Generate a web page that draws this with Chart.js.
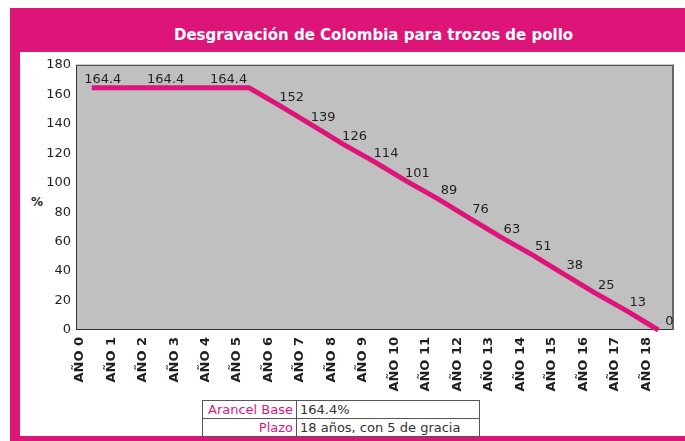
<!DOCTYPE html>
<html>
<head>
<meta charset="utf-8">
<script src="https://cdn.jsdelivr.net/npm/chart.js@4.4.1/dist/chart.umd.min.js"></script>
<style>
  body { margin: 0; width: 685px; height: 441px; overflow: hidden; position: relative; background: #fff; font-family: "DejaVu Sans", sans-serif; }
  #frame { position: absolute; left: 10px; top: 8px; width: 675px; height: 433px; background: #de1579; }
  #inner { position: absolute; left: 20px; top: 52px; width: 670px; height: 384px; background: #fff; }
  #title { position: absolute; left: 174px; top: 26px; color: #fff; font: bold 15px "DejaVu Sans", sans-serif; white-space: nowrap; }
  #box { position: absolute; left: 20px; top: 52px; width: 665px; height: 348px; }
  #pct { position: absolute; left: 31px; top: 195px; font: bold 12px "DejaVu Sans", sans-serif; color: #231f20; }
  #info { position: absolute; left: 202px; top: 400px; border-collapse: collapse; font-size: 13px; color: #333; }
  #info td { border: 1px solid #555; height: 17px; padding: 0 3px; line-height: 16px; white-space: nowrap; }
  #info td.k { color: #de1579; text-align: right; width: 87px; }
  #info td.v { width: 176px; }
</style>
</head>
<body>
<div id="frame"></div>
<div id="inner"></div>
<div id="title">Desgravación de Colombia para trozos de pollo</div>
<div id="pct">%</div>
<div id="box"><canvas id="myChart"></canvas></div>
<table id="info"></table>
<script>
// categories (años)
const years = ["AÑO 0", "AÑO 1", "AÑO 2", "AÑO 3", "AÑO 4", "AÑO 5", "AÑO 6", "AÑO 7", "AÑO 8", "AÑO 9",
  "AÑO 10", "AÑO 11", "AÑO 12", "AÑO 13", "AÑO 14", "AÑO 15", "AÑO 16", "AÑO 17", "AÑO 18"];
// arancel (%) por año
const arancel = [164.4, 164.4, 164.4, 164.4, 164.4, 164.4, 152, 139, 126, 114, 101, 89, 76, 63, 51, 38, 25, 13, 0];
// etiquetas que se ven sobre la linea (vacio = sin etiqueta)
const valueLabels = ["164.4", "", "164.4", "", "164.4", "", "152", "139", "126", "114", "101", "89", "76", "63", "51", "38", "25", "13", "0"];
// tabla de abajo
const tableKeys = ["Arancel Base", "Plazo"];
const tableVals = ["164.4%", "18 años, con 5 de gracia"];

const pink = "#de1579";

let info = document.getElementById("info");
for (let i = 0; i < tableKeys.length; i++) {
  let tr = document.createElement("tr");
  tr.innerHTML = `<td class="k">${tableKeys[i]}</td><td class="v">${tableVals[i]}</td>`;
  info.appendChild(tr);
}

// plot area fill + border, then the value labels
const plotBox = {
  id: "plotBox",
  beforeDatasetsDraw(chart) {
    const a = chart.chartArea, c = chart.ctx;
    c.save();
    c.fillStyle = "#c0c0c0";
    c.fillRect(a.left, a.top, a.right - a.left, a.bottom - a.top);
    c.strokeStyle = "#333";
    c.lineWidth = 1;
    c.strokeRect(a.left + 0.5, a.top + 0.5, a.right - a.left - 1, a.bottom - a.top - 1);
    c.strokeStyle = "#666";
    c.lineWidth = 2;
    c.beginPath();
    c.moveTo(a.right - 1, a.top);
    c.lineTo(a.right - 1, a.bottom);
    c.stroke();
    c.restore();
  },
  afterDatasetsDraw(chart) {
    const c = chart.ctx;
    const pts = chart.getDatasetMeta(0).data;
    c.save();
    c.font = '13px "DejaVu Sans"';
    c.fillStyle = "#231f20";
    c.textAlign = "center";
    c.textBaseline = "middle";
    pts.forEach((p, i) => {
      if (valueLabels[i]) c.fillText(valueLabels[i], p.x + 11, p.y - 8);
    });
    c.restore();
  },
};

const ctx = document.getElementById("myChart").getContext("2d");
const myChart = new Chart(ctx, {
  type: "line",
  data: {
    labels: years,
    datasets: [
      {
        data: arancel,
        borderColor: pink,
        borderWidth: 5,
        pointRadius: 0,
        tension: 0,
        clip: 6,
      },
    ],
  },
  options: {
    responsive: true,
    maintainAspectRatio: false,
    animation: false,
    layout: { padding: { top: 12, right: 11, left: 0, bottom: 0 } },
    plugins: { legend: { display: false }, tooltip: { enabled: false } },
    scales: {
      x: {
        offset: true,
        grid: { display: false, drawTicks: false },
        border: { display: false },
        ticks: {
          autoSkip: false,
          maxRotation: 90,
          minRotation: 90,
          padding: 7,
          labelOffset: -12,
          color: "#231f20",
          font: { family: "DejaVu Sans", size: 13, weight: "bold" },
        },
        afterFit: (s) => { s.height = 70; },
      },
      y: {
        min: 0,
        max: 180,
        grid: { display: false, drawTicks: false },
        border: { display: false },
        ticks: {
          stepSize: 20,
          padding: 5,
          color: "#231f20",
          font: { family: "DejaVu Sans", size: 13 },
        },
        afterFit: (s) => { s.width = 56; },
      },
    },
  },
  plugins: [plotBox],
});
</script>
</body>
</html>
